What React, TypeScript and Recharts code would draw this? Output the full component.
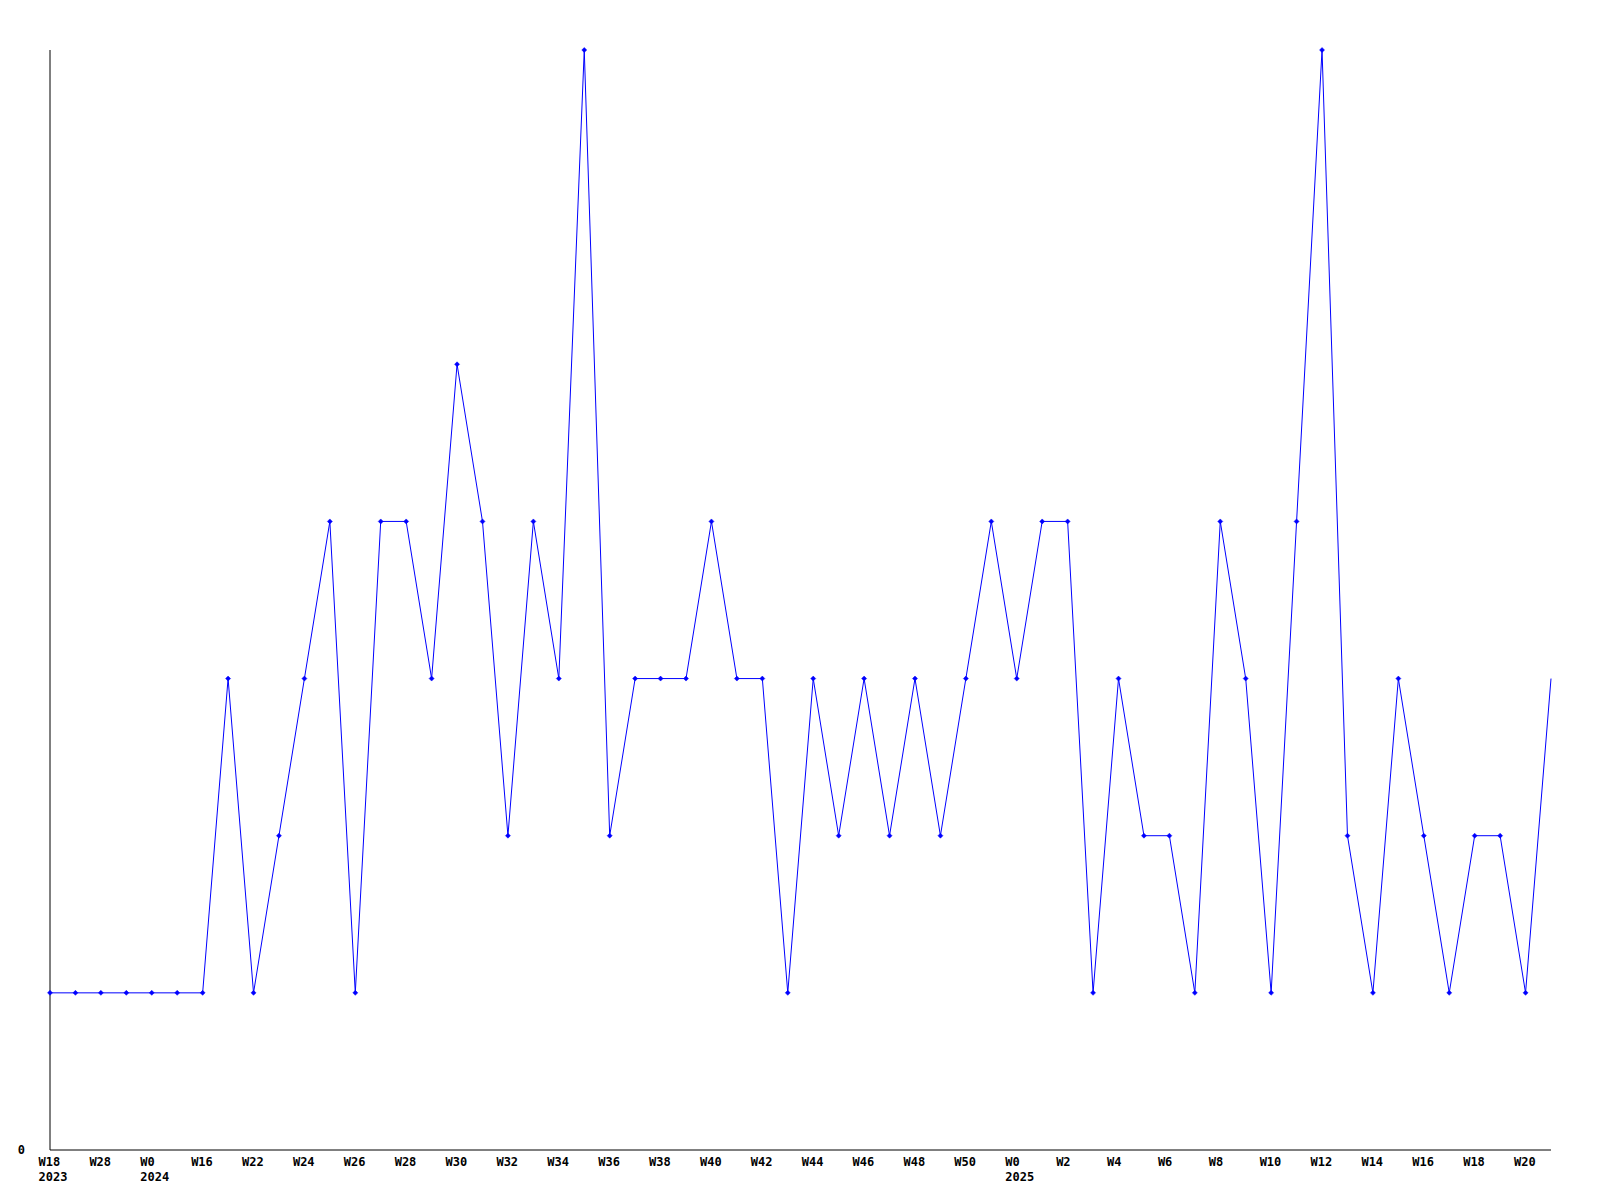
import { LineChart, Line, XAxis, YAxis } from "recharts"

// weekly counts, one per point
const counts = [
  1, 1, 1, 1, 1, 1, 1, 3, 1, 2,
  3, 4, 1, 4, 4, 3, 5, 4, 2, 4,
  3, 7, 2, 3, 3, 3, 4, 3, 3, 1,
  3, 2, 3, 2, 3, 2, 3, 4, 3, 4,
  4, 1, 3, 2, 2, 1, 4, 3, 1, 4,
  7, 2, 1, 3, 2, 1, 2, 2, 1, 3,
]

// labels shown on every second point
const tickLabels = [
  "W18\n2023", "W28", "W0\n2024", "W16", "W22", "W24", "W26", "W28", "W30", "W32",
  "W34", "W36", "W38", "W40", "W42", "W44", "W46", "W48", "W50", "W0\n2025",
  "W2", "W4", "W6", "W8", "W10", "W12", "W14", "W16", "W18", "W20",
]

const yTicks = [0]

const data = counts.map((c, i) => ({ idx: i, count: c }))
const xTicks = tickLabels.map((_, k) => k * 2)

const FONT = "'DejaVu Sans Mono', monospace"
const BLUE = "#0000ff"

function WeekTick(props: any) {
  const { x, y, payload } = props
  const label = tickLabels[payload.value / 2] ?? ""
  const lines = label.split("\n")
  // labels hang from just left of the tick, lines left-aligned
  const left = x - 11.5
  return (
    <text x={left} y={y} fontFamily={FONT} fontSize={12} fontWeight="bold" fill="#000">
      {lines.map((l, i) => (
        <tspan key={i} x={left} y={y + 8 + i * 15}>
          {l}
        </tspan>
      ))}
    </text>
  )
}

function Marker(props: any) {
  const { cx, cy, index } = props
  if (index === counts.length - 1) return <g key={index} />
  const r = 2.5
  return (
    <path
      key={index}
      d={`M${cx - r},${cy} L${cx},${cy - r} L${cx + r},${cy} L${cx},${cy + r} Z`}
      fill={BLUE}
      stroke={BLUE}
      strokeWidth={0.5}
    />
  )
}

export default function App() {
  return (
    <div style={{ position: "absolute", left: 0, top: 0, background: "#fff" }}>
      <LineChart width={1600} height={1200} data={data} margin={{ top: 50, right: 49, left: 20, bottom: 10 }}>
        <XAxis
          type="number"
          dataKey="idx"
          domain={[0, counts.length - 1]}
          ticks={xTicks}
          interval={0}
          tickLine={false}
          axisLine={{ stroke: "#000", strokeWidth: 1 }}
          height={40}
          tick={<WeekTick />}
        />
        <YAxis
          domain={[0, 7]}
          ticks={yTicks}
          width={30}
          tickLine={false}
          tickSize={6}
          tickMargin={19}
          axisLine={{ stroke: "#000", strokeWidth: 1 }}
          tick={{ fontFamily: FONT, fontSize: 12, fontWeight: "bold", fill: "#000" }}
        />
        <Line
          type="linear"
          dataKey="count"
          stroke={BLUE}
          strokeWidth={1}
          dot={<Marker />}
          activeDot={false}
          isAnimationActive={false}
        />
      </LineChart>
    </div>
  )
}
